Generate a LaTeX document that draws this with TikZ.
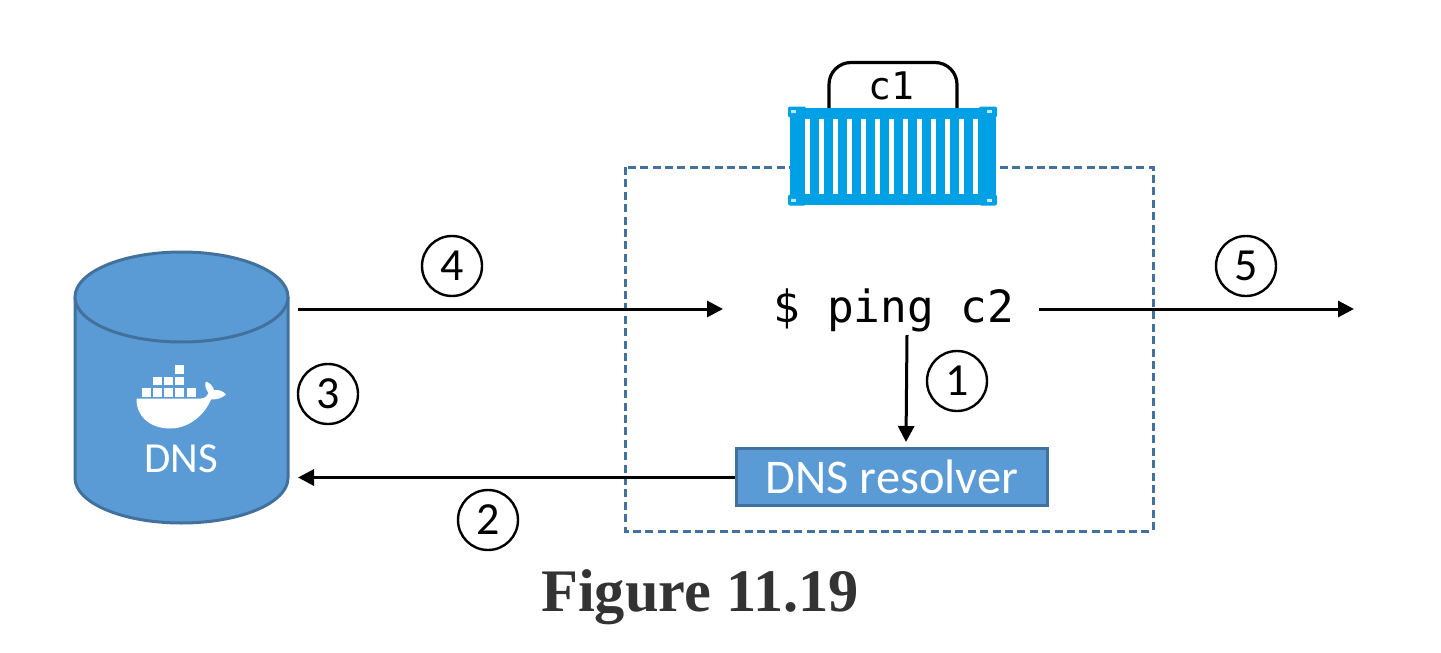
\documentclass[tikz,border=0pt]{standalone}
\usepackage{fontspec}
\setmainfont{Carlito}
\newfontfamily\monof{DejaVu Sans Mono}
\newfontfamily\figf{Liberation Serif}
\usetikzlibrary{arrows.meta}
\definecolor{dblue}{HTML}{5B9BD5}
\definecolor{dedge}{HTML}{41719C}
\definecolor{cblue}{HTML}{00A1E4}
\newcommand{\ptsize}[1]{\fontsize{#1}{#1}\selectfont}
\tikzset{
  x=0.5pt,y=-0.5pt,
  flow/.style={draw=black,line width=1.5pt,-{Triangle[length=8pt,width=8pt]}},
  numcirc/.style={circle,draw=black,line width=1.2pt,minimum size=30pt,inner sep=0pt,font=\ptsize{23}},
  wtxt/.style={text=white,inner sep=0pt},
  slat/.style={fill=white,draw=none},
  block/.style={fill=white,draw=none},
  fitting/.style={fill=white!75!cblue,draw=none},
}
\begin{document}
\begin{tikzpicture}
\useasboundingbox (0,0) rectangle (1441,653);
% dashed frame
\draw[dedge,line width=1.5pt,dash pattern=on 4pt off 2.2pt] (625,167) rectangle (1153,531);
% container handle
\draw[black,line width=1.6pt,rounded corners=11pt] (829,108) -- (829,62.5) -- (957,62.5) -- (957,108);
\node[inner sep=0pt,font=\monof\ptsize{19}] (c1) at (891,86) {c1};
% container
\fill[cblue] (789.5,108) rectangle (995.5,204.5);
\foreach \cx/\cy in {797/112,988/112,797/200,988/200}{
  \fill[cblue,rounded corners=1pt] (\cx-9,\cy-5.5) rectangle (\cx+9,\cy+5.5);
}
\foreach \i in {0,...,12}{
  \fill[slat] ({805+14.03*\i},118.5) rectangle ({809.5+14.03*\i},193.5);
}
\foreach \cx/\cy in {793.5/111.5,989.5/111.5,793.5/200.5,989.5/200.5}{
  \fill[fitting] (\cx-2.5,\cy-1.5) rectangle (\cx+2.5,\cy+1.5);
}
% DNS cylinder
\draw[fill=dblue,draw=dedge,line width=1.5pt]
  (75,297) -- (75,478) arc[start angle=180,end angle=0,x radius=106.5,y radius=45] -- (288,297);
\draw[fill=dblue,draw=dedge,line width=1.5pt] (181.5,297) ellipse[x radius=106.5,y radius=45];
% whale
\foreach \bx/\by in {141.7/388,153/388,164.3/388,175.3/388,186.5/388,153/376.5,164.3/376.5,175.3/376.5,175.3/365}{
  \fill[block] (\bx,\by) rectangle ++(9,8.5);
}
\fill[white] (136.5,398.5) -- (196,398.5)
  .. controls (204,399) and (206,398) .. (208.5,393)
  .. controls (205,388) and (204.5,384) .. (206,381.5)
  .. controls (210,383) and (213,386) .. (214,390)
  .. controls (219,389.5) and (223,391) .. (226,394.5)
  .. controls (222,398.5) and (216,399.5) .. (211,399.5)
  .. controls (204,416) and (188,428.5) .. (170,428.5)
  .. controls (150,428.5) and (136,416) .. (136.5,398.5) -- cycle;
\node[wtxt,font=\ptsize{21.4}] (dnslbl) at (181,459) {DNS};
% terminal text
\node[inner sep=0pt,font=\monof\ptsize{22.2}] (ping) at (894,310) {\$ ping c2};
% resolver
\node[draw=dedge,fill=dblue,line width=1.5pt,minimum width=155.5pt,minimum height=28.5pt,inner sep=0pt,text=white,font=\ptsize{24.2}] (res) at (892,476.5) {DNS resolver};
% anchors
\coordinate (dnsout) at (298,309);
\coordinate (pingin) at (723,309);
\coordinate (pingout) at (1039,309);
\coordinate (exit) at (1354,309);
\coordinate (pingdown) at (907,335);
\coordinate (resin) at (906,442);
\coordinate (dnsin) at (298,477.5);
% connectors
\draw[flow] (dnsout) -- (pingin);
\draw[flow] (pingout) -- (exit);
\draw[flow] (pingdown) -- (resin);
\draw[flow] (res.west |- dnsin) -- (dnsin);
% numbers
\node[numcirc] (n4) at (452,266) {4};
\node[numcirc] (n5) at (1246,266) {5};
\node[numcirc] (n3) at (328,394) {3};
\node[numcirc] (n1) at (957,381) {1};
\node[numcirc] (n2) at (488,520) {2};
% caption
\node[inner sep=0pt,text=black!80,font=\figf\bfseries\ptsize{30.2}] (cap) at (700,597) {Figure 11.19};
\end{tikzpicture}
\end{document}
